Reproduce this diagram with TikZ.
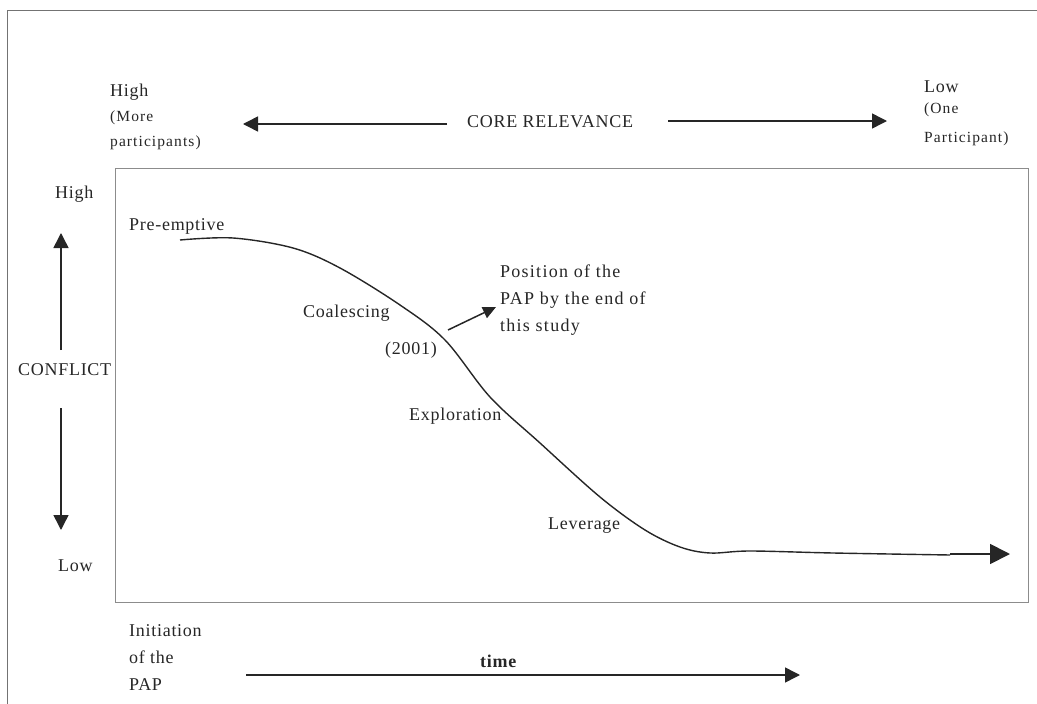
\documentclass[tikz,border=0pt]{standalone}
\usepackage{fontspec}
\setmainfont{Liberation Serif}[LetterSpace=4]
\newfontfamily\widefont{Liberation Serif}[LetterSpace=7]
\newfontfamily\smallfont{Liberation Serif}[LetterSpace=7]
\usetikzlibrary{arrows.meta}
\begin{document}
\begin{tikzpicture}[x=1pt,y=-1pt,
  lbl/.style={inner sep=0pt,anchor=base west,font=\fontsize{18}{22}\selectfont,text=black!85},
  sml/.style={lbl,font=\smallfont\fontsize{15.5}{19}\selectfont},
  wid/.style={lbl,font=\widefont\fontsize{18}{22}\selectfont},
  arr/.style={line width=1.5pt,draw=black!85,-{Triangle[length=15pt,width=15pt]}},
  frame/.style={draw=black!55,line width=0.8pt}]
\useasboundingbox (0,0) rectangle (1037,704);
% outer frame (partial)
\draw[frame] (7,704) -- (7,10) -- (1037,10);
% inner box
\draw[frame,draw=black!45] (115,168) rectangle (1028,602);
% top texts
\node[lbl] (hi) at (110,96) {High};
\node[sml] (more) at (110,121) {(More};
\node[sml] (parts) at (110,146) {participants)};
\node[lbl] (core) at (467,127) {CORE RELEVANCE};
\node[lbl] (lo) at (924,92) {Low};
\node[sml] (one) at (924,113) {(One};
\node[sml] (part) at (924,142) {Participant)};
\coordinate (la0) at (447,124);
\coordinate (la1) at (243,124);
\coordinate (ra0) at (668,121);
\coordinate (ra1) at (887,121);
\draw[arr] (la0) -- (la1);
\draw[arr] (ra0) -- (ra1);
% left axis
\node[lbl] (lhi) at (55,198) {High};
\node[lbl] (conf) at (18,375) {CONFLICT};
\node[lbl] (llo) at (58,571) {Low};
\coordinate (ua0) at (61,350);
\coordinate (ua1) at (61,233);
\coordinate (da0) at (61,408);
\coordinate (da1) at (61,530);
\draw[arr] (ua0) -- (ua1);
\draw[arr] (da0) -- (da1);
% curve
\draw[line width=1.4pt,draw=black!85] plot[smooth,tension=0.55] coordinates {
 (180,240) (233,238) (293,248) (340,268) (400,305) (445,340)
 (490,397) (540,443) (600,497) (645,530) (680,547)
 (710,553) (750,551) (833,553) (950,555)};
\coordinate (ce0) at (950,554);
\coordinate (ce1) at (1010,554);
\draw[line width=1.8pt,draw=black!85,-{Triangle[length=20pt,width=20pt]}] (ce0) -- (ce1);
% stage labels
\node[lbl] (pre) at (129,230) {Pre-emptive};
\node[lbl] (coal) at (303,317) {Coalescing};
\node[lbl] (yr) at (385,354) {(2001)};
\node[lbl] (expl) at (409,420) {Exploration};
\node[lbl] (lev) at (548,529) {Leverage};
% position label
\node[wid] (pos1) at (500,277) {Position of the};
\node[wid] (pos2) at (500,304) {PAP by the end of};
\node[wid] (pos3) at (500,331) {this study};
\coordinate (pa0) at (448,330);
\coordinate (pa1) at (496,307);
\draw[line width=1.5pt,draw=black!85,-{Triangle[length=13pt,width=12pt]}] (pa0) -- (pa1);
% bottom
\node[lbl] (ini1) at (129,636) {Initiation};
\node[lbl] (ini2) at (129,663) {of the};
\node[lbl] (ini3) at (129,690) {PAP};
\node[lbl,font=\fontsize{18}{22}\selectfont\bfseries] (time) at (480,667) {time};
\coordinate (ta0) at (246,675);
\coordinate (ta1) at (800,675);
\draw[arr] (ta0) -- (ta1);
\end{tikzpicture}
\end{document}
